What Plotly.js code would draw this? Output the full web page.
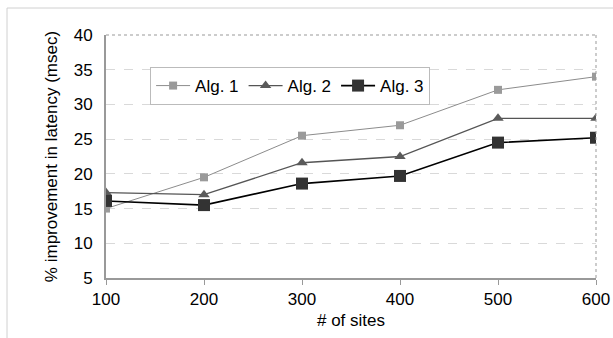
<!DOCTYPE html>
<html><head><meta charset="utf-8">
<script src="https://cdn.plot.ly/plotly-3.0.1.min.js"></script>
<style>html,body{margin:0;padding:0;background:#fff;}#chart{width:613px;height:338px;}</style>
</head><body><div id="chart"></div>
<script>
const sites = [100, 200, 300, 400, 500, 600];
const alg1 = [15.0, 19.5, 25.5, 27.0, 32.1, 34.0];
const alg2 = [17.3, 17.0, 21.6, 22.5, 28.0, 28.0];
const alg3 = [16.1, 15.5, 18.6, 19.7, 24.5, 25.2];
const seriesNames = ['Alg. 1', 'Alg. 2', 'Alg. 3'];
const yTicks = [5, 10, 15, 20, 25, 30, 35, 40];

const font = 'Liberation Sans, Arial, sans-serif';
const traces = [
  {x: sites, y: alg1, name: seriesNames[0], mode: 'lines+markers',
   line: {color: '#8c8c8c', width: 1}, marker: {symbol: 'square', size: 8, color: '#9a9a9a'}},
  {x: sites, y: alg2, name: seriesNames[1], mode: 'lines+markers',
   line: {color: '#555555', width: 1.3}, marker: {symbol: 'triangle-up', size: 10, color: '#5a5a5a'}},
  {x: sites, y: alg3, name: seriesNames[2], mode: 'lines+markers',
   line: {color: '#000000', width: 1.6}, marker: {symbol: 'square', size: 12, color: '#333333'}}
];
const layout = {
  width: 613, height: 338,
  margin: {l: 106, r: 17, t: 35, b: 60},
  paper_bgcolor: '#fff', plot_bgcolor: '#fff',
  font: {family: font, size: 17, color: '#000'},
  showlegend: true,
  legend: {orientation: 'h', x: 0.09, y: 0.79, xanchor: 'left', yanchor: 'middle',
    bordercolor: '#bbbbbb', borderwidth: 1, bgcolor: '#fff',
    font: {family: font, size: 17}, itemwidth: 34, tracegroupgap: 0},
  xaxis: {range: [100, 600], tickvals: sites, ticktext: sites.map(String),
    showgrid: false, zeroline: false, showline: true, linecolor: '#999', linewidth: 2,
    ticks: 'outside', ticklen: 5, tickcolor: '#999', tickfont: {size: 17},
    title: {text: '# of sites', font: {size: 17}, standoff: 6}, mirror: false},
  yaxis: {range: [5, 40], tickvals: yTicks, showgrid: true, gridcolor: '#d9d9d9',
    griddash: 'dash', gridwidth: 1, zeroline: false, showline: true, linecolor: '#999',
    linewidth: 2, ticks: '', tickfont: {size: 17}, ticklabelstandoff: 8,
    title: {text: '% improvement in latency (msec)', font: {size: 17}, standoff: 12}},
  shapes: [
    {type: 'line', xref: 'paper', yref: 'paper', x0: 0, x1: 1, y0: 1, y1: 1,
     line: {color: '#999', width: 1, dash: 'dot'}},
    {type: 'line', xref: 'paper', yref: 'paper', x0: 1, x1: 1, y0: 0, y1: 1,
     line: {color: '#999', width: 1, dash: 'dot'}},
    {type: 'line', xref: 'paper', yref: 'paper', x0: -0.202, x1: 1.035, y0: 1.111, y1: 1.111,
     line: {color: '#d0d0d0', width: 1}},
    {type: 'line', xref: 'paper', yref: 'paper', x0: -0.202, x1: -0.202, y0: 1.111, y1: -0.25,
     line: {color: '#d0d0d0', width: 1}}
  ]
};
Plotly.newPlot('chart', traces, layout, {displayModeBar: false, staticPlot: true});
</script></body></html>
